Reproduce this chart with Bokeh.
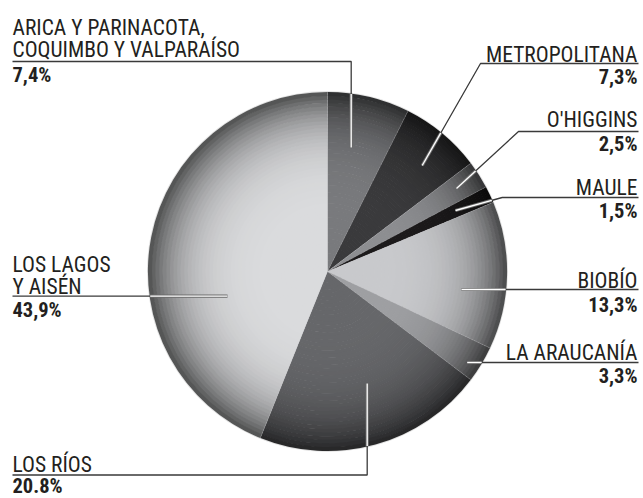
import numpy as np
from bokeh.plotting import figure
from bokeh.models import Range1d
from bokeh.core.properties import value
from bokeh.embed import file_html
from bokeh.resources import INLINE

# ---- data ----
regions = ["ARICA Y PARINACOTA, COQUIMBO Y VALPARAÍSO", "METROPOLITANA", "O'HIGGINS",
           "MAULE", "BIOBÍO", "LA ARAUCANÍA", "LOS RÍOS", "LOS LAGOS Y AISÉN"]
shares = [7.4, 7.3, 2.5, 1.5, 13.3, 3.3, 20.8, 43.9]
name_lines = [["ARICA Y PARINACOTA,", "COQUIMBO Y VALPARAÍSO"], ["METROPOLITANA"], ["O'HIGGINS"],
              ["MAULE"], ["BIOBÍO"], ["LA ARAUCANÍA"], ["LOS RÍOS"], ["LOS LAGOS", "Y AISÉN"]]
pct_labels = ["7,4%", "7,3%", "2,5%", "1,5%", "13,3%", "3,3%", "20.8%", "43,9%"]

# ---- style / layout ----
base_colors = ["#7a7b7e", "#3b3b3d", "#8e8f92", "#1d1b1c", "#c9cacd", "#9fa0a3", "#67686b", "#dbdcde"]
W, H = 643, 498
CX, CY_IMG, R = 327, 271, 179
FONT = value("Roboto Condensed")
NAME_PX, PCT_PX = 21.5, 20.5
def Y(yimg):
    return H - yimg

# label layout (image pixel coords): side, name baselines, pct baseline, leader path
layout = [
    dict(side="L", names=[33, 55], pct=81, path=[(12, 61), (350.7, 61), (350.7, 147)]),
    dict(side="R", names=[60], pct=83, path=[(638, 63), (480, 63), (421.7, 165)]),
    dict(side="R", names=[125], pct=150, path=[(638, 131), (518, 131), (456, 188)]),
    dict(side="R", names=[193], pct=217, path=[(638, 197), (501.7, 197), (455, 210)]),
    dict(side="R", names=[286.5], pct=310.5, path=[(638, 289), (461, 289)]),
    dict(side="R", names=[358], pct=381.5, path=[(638, 362), (466.7, 362)]),
    dict(side="L", names=[470.5], pct=491.5, path=[(12, 474.5), (366.7, 474.5), (366.7, 383)]),
    dict(side="L", names=[270, 292], pct=315.5, path=[(12, 295.7), (227, 295.7)]),
]

p = figure(width=W, height=H, x_range=Range1d(0, W), y_range=Range1d(0, H),
           output_backend="svg", toolbar_location=None, min_border=0)
p.axis.visible = False
p.grid.visible = False
p.outline_line_color = None
p.background_fill_color = "white"

CY = Y(CY_IMG)
# light rim
p.circle(x=[CX], y=[CY], radius=R + 1.5, fill_color="#e2e2e2", line_color=None)

# slices with radial shading
fr = np.array(shares) / sum(shares)
cum = np.concatenate([[0], np.cumsum(fr)])
starts = np.pi / 2 - 2 * np.pi * cum[:-1]
ends = np.pi / 2 - 2 * np.pi * cum[1:]

def hex2rgb(h):
    return np.array([int(h[i:i + 2], 16) for i in (1, 3, 5)], dtype=float)

N = 50
edges = np.linspace(0, R, N + 1)
xs, ys, ir, orr, sa, ea, cols = [], [], [], [], [], [], []
for i, c in enumerate(base_colors):
    rgb = hex2rgb(c)
    for k in range(N):
        t = (edges[k] + edges[k + 1]) / 2 / R
        f = 1 - 0.64 * t ** 5
        cc = np.clip(rgb * f, 0, 255).astype(int)
        xs.append(CX); ys.append(CY)
        ir.append(edges[k]); orr.append(edges[k + 1] + 0.6)
        sa.append(starts[i]); ea.append(ends[i])
        cols.append("#%02x%02x%02x" % tuple(cc))
p.annular_wedge(x=xs, y=ys, inner_radius=ir, outer_radius=orr, start_angle=sa, end_angle=ea,
                direction="clock", fill_color=cols, line_color=None)

# thin separators between slices
for a in starts:
    p.line([CX, CX + R * np.cos(a)], [CY, CY + R * np.sin(a)], line_color="#c8c9cb", line_width=0.6, line_alpha=0.4)

# leader lines
def inside_part(path):
    (x0, y0), (x1, y1) = path[-2], path[-1]
    dx, dy = x1 - x0, y1 - y0
    fx, fy = x0 - CX, y0 - CY_IMG
    a = dx * dx + dy * dy
    b = 2 * (fx * dx + fy * dy)
    c = fx * fx + fy * fy - R * R
    disc = b * b - 4 * a * c
    tt = (-b - np.sqrt(max(disc, 0))) / (2 * a)
    tt = min(max(tt, 0), 1)
    return (x0 + tt * dx, y0 + tt * dy), (x1, y1)

for L in layout:
    px = [q[0] for q in L["path"]]
    py = [Y(q[1]) for q in L["path"]]
    p.line(px, py, line_color="#3a3a3a", line_width=1.3)
    (ax, ay), (bx, by) = inside_part(L["path"])
    p.line([ax, bx], [Y(ay), Y(by)], line_color="#6b6b6b", line_width=3.2)
    p.line([ax, bx], [Y(ay), Y(by)], line_color="#ffffff", line_width=1.3)

# texts (baseline correction for the renderer's descent offset)
for i, L in enumerate(layout):
    xa = 12 if L["side"] == "L" else 637
    al = "left" if L["side"] == "L" else "right"
    for line, yb in zip(name_lines[i], L["names"]):
        p.text(x=[xa], y=[Y(yb - 0.3 * NAME_PX)], text=[line], text_align=al, text_baseline="alphabetic",
               text_font=FONT, text_font_size=f"{NAME_PX}px", text_color="#231f20")
    p.text(x=[xa], y=[Y(L["pct"] - 0.3 * PCT_PX)], text=[pct_labels[i]], text_align=al, text_baseline="alphabetic",
           text_font=FONT, text_font_size=f"{PCT_PX}px", text_font_style="bold", text_color="#231f20")

open("out.html", "w").write(file_html(p, INLINE))
